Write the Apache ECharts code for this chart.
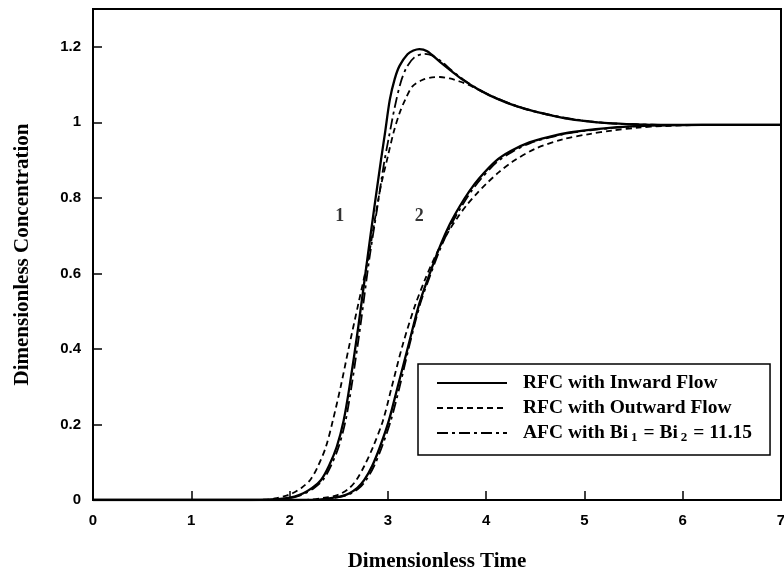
<!DOCTYPE html>
<html>
<head>
<meta charset="utf-8">
<script src="https://cdn.jsdelivr.net/npm/echarts@6/dist/echarts.min.js"></script>
<style>html,body{margin:0;padding:0;background:#fff;}#c{width:784px;height:576px;}</style>
</head>
<body>
<div id="c"></div>
<script>
// ---- Data ----
const xTicks = [0, 1, 2, 3, 4, 5, 6, 7];
const yTicks = [0, 0.2, 0.4, 0.6, 0.8, 1, 1.2];

const seriesNames = ['RFC with Inward Flow', 'RFC with Outward Flow', 'AFC with Bi1 = Bi2 = 11.15'];

// Curve 1 – RFC inward (solid)
const c1InX = [0, 1.6, 1.8, 1.95, 2.05, 2.14, 2.23, 2.32, 2.40, 2.48, 2.55, 2.61, 2.70, 2.79, 2.86, 2.93, 2.97, 3.02, 3.07, 3.12, 3.20, 3.26, 3.32, 3.40, 3.53, 3.65, 3.76, 3.90, 4.03, 4.27, 4.50, 4.78, 5.05, 5.28, 5.60, 6.0, 7.0];
const c1InY = [0, 0, 0.001, 0.004, 0.009, 0.018, 0.032, 0.053, 0.09, 0.141, 0.21, 0.30, 0.46, 0.636, 0.77, 0.90, 0.97, 1.06, 1.115, 1.15, 1.18, 1.19, 1.194, 1.188, 1.16, 1.135, 1.113, 1.09, 1.072, 1.046, 1.028, 1.012, 1.002, 0.997, 0.994, 0.993, 0.993];
// Curve 1 – RFC outward (dashed)
const c1OutX = [0, 1.6, 1.75, 1.85, 1.95, 2.03, 2.12, 2.21, 2.29, 2.37, 2.44, 2.52, 2.60, 2.70, 2.80, 2.92, 3.00, 3.06, 3.12, 3.18, 3.25, 3.35, 3.45, 3.53, 3.63, 3.73, 3.83, 4.03, 4.27, 4.50, 4.78, 5.05, 5.28, 5.60, 6.0, 7.0];
const c1OutY = [0, 0, 0.001, 0.004, 0.010, 0.018, 0.032, 0.053, 0.09, 0.141, 0.21, 0.30, 0.40, 0.52, 0.64, 0.82, 0.91, 0.975, 1.025, 1.062, 1.095, 1.112, 1.119, 1.12, 1.116, 1.108, 1.098, 1.072, 1.046, 1.028, 1.012, 1.002, 0.997, 0.994, 0.993, 0.993];
// Curve 1 – AFC (dash-dot)
const c1AfcX = [0, 1.6, 1.8, 1.97, 2.07, 2.16, 2.25, 2.34, 2.42, 2.50, 2.57, 2.63, 2.72, 2.81, 2.89, 2.96, 3.01, 3.07, 3.13, 3.19, 3.27, 3.37, 3.45, 3.55, 3.65, 3.76, 3.90, 4.03, 4.27, 4.50, 4.78, 5.05, 5.28, 5.60, 6.0, 7.0];
const c1AfcY = [0, 0, 0.001, 0.004, 0.009, 0.018, 0.032, 0.053, 0.09, 0.141, 0.21, 0.30, 0.46, 0.636, 0.77, 0.89, 0.96, 1.04, 1.105, 1.145, 1.172, 1.181, 1.177, 1.16, 1.137, 1.115, 1.091, 1.073, 1.047, 1.029, 1.013, 1.003, 0.997, 0.994, 0.993, 0.993];

// Curve 2 – RFC inward (solid)
const c2InX = [0, 2.1, 2.3, 2.45, 2.54, 2.61, 2.69, 2.76, 2.84, 2.92, 3.01, 3.10, 3.21, 3.32, 3.42, 3.52, 3.63, 3.73, 3.83, 3.93, 4.10, 4.25, 4.44, 4.65, 4.85, 5.05, 5.28, 5.55, 5.8, 6.2, 7.0];
const c2InY = [0, 0, 0.001, 0.006, 0.011, 0.018, 0.032, 0.053, 0.09, 0.141, 0.21, 0.30, 0.41, 0.52, 0.595, 0.665, 0.73, 0.777, 0.818, 0.852, 0.898, 0.924, 0.947, 0.962, 0.973, 0.98, 0.986, 0.99, 0.992, 0.993, 0.993];
// Curve 2 – RFC outward (dashed)
const c2OutX = [0, 2.0, 2.2, 2.36, 2.46, 2.53, 2.61, 2.68, 2.76, 2.85, 2.95, 3.04, 3.15, 3.27, 3.38, 3.50, 3.62, 3.72, 3.80, 3.90, 4.0, 4.13, 4.27, 4.50, 4.78, 5.05, 5.28, 5.55, 5.8, 6.2, 7.0];
const c2OutY = [0, 0, 0.001, 0.006, 0.011, 0.018, 0.032, 0.053, 0.09, 0.141, 0.21, 0.30, 0.41, 0.51, 0.585, 0.655, 0.712, 0.752, 0.78, 0.81, 0.837, 0.868, 0.896, 0.93, 0.955, 0.969, 0.978, 0.986, 0.99, 0.993, 0.993];
// Curve 2 – AFC (dash-dot)
const c2AfcX = [0, 2.1, 2.32, 2.47, 2.56, 2.63, 2.71, 2.78, 2.86, 2.94, 3.03, 3.12, 3.22, 3.33, 3.43, 3.53, 3.64, 3.74, 3.84, 3.94, 4.11, 4.26, 4.45, 4.66, 4.86, 5.06, 5.29, 5.56, 5.8, 6.2, 7.0];
const c2AfcY = [0, 0, 0.001, 0.006, 0.011, 0.018, 0.032, 0.053, 0.09, 0.141, 0.21, 0.30, 0.41, 0.52, 0.594, 0.663, 0.727, 0.773, 0.814, 0.848, 0.895, 0.921, 0.945, 0.961, 0.972, 0.979, 0.985, 0.99, 0.992, 0.993, 0.993];

// Curve number annotations
const curveLabels = ['1', '2'];
const curveLabelX = [2.51, 3.32];
const curveLabelY = [0.752, 0.752];

// ---- Build ----
const zip = (xs, ys) => xs.map((x, i) => [x, ys[i]]);
const styles = [
  { color: '#000', width: 2.3, type: 'solid' },
  { color: '#000', width: 1.8, type: [6, 4] },
  { color: '#000', width: 1.8, type: [11, 4, 3, 4] }
];
const curveSets = [
  [seriesNames[0], c1InX, c1InY, 0], [seriesNames[0], c2InX, c2InY, 0],
  [seriesNames[1], c1OutX, c1OutY, 1], [seriesNames[1], c2OutX, c2OutY, 1],
  [seriesNames[2], c1AfcX, c1AfcY, 2], [seriesNames[2], c2AfcX, c2AfcY, 2]
];
const lineSeries = curveSets.map(([name, xs, ys, s]) => ({
  name, type: 'line', data: zip(xs, ys), showSymbol: false, symbol: 'none',
  smooth: 0.3, lineStyle: styles[s], itemStyle: { color: '#000' },
  z: s === 0 ? 4 : 3
}));

const serif = '"Liberation Serif", "Times New Roman", serif';
const sans = '"Liberation Sans", Arial, sans-serif';

const chart = echarts.init(document.getElementById('c'), null, { renderer: 'canvas' });
chart.setOption({
  animation: false,
  backgroundColor: '#fff',
  grid: { left: 93, right: 3, top: 9, bottom: 76, outerBoundsMode: 'none', containLabel: false,
    show: true, borderColor: '#000', borderWidth: 2, backgroundColor: 'transparent' },
  xAxis: {
    type: 'value', min: xTicks[0], max: xTicks[xTicks.length - 1], interval: 1,
    axisLine: { lineStyle: { color: '#000', width: 2 } },
    axisTick: { inside: true, length: 9, lineStyle: { color: '#000', width: 1.5 } },
    splitLine: { show: false },
    axisLabel: { color: '#000', fontFamily: sans, fontWeight: 'bold', fontSize: 15, margin: 13 },
    name: 'Dimensionless Time', nameLocation: 'middle', nameGap: 51,
    nameTextStyle: { fontFamily: serif, fontWeight: 'bold', fontSize: 21, color: '#000' }
  },
  yAxis: {
    type: 'value', min: 0, max: 1.3, interval: 0.2,
    axisLine: { lineStyle: { color: '#000', width: 2 } },
    axisTick: { inside: true, length: 9, lineStyle: { color: '#000', width: 1.5 } },
    splitLine: { show: false },
    axisLabel: { color: '#000', fontFamily: sans, fontWeight: 'bold', fontSize: 15, margin: 12, showMaxLabel: false },
    name: 'Dimensionless Concentration', nameLocation: 'middle', nameGap: 60, nameRotate: 90,
    nameTextStyle: { fontFamily: serif, fontWeight: 'bold', fontSize: 21, color: '#000' }
  },
  legend: {
    orient: 'vertical', left: 418, top: 364,
    data: seriesNames,
    itemWidth: 70, itemHeight: 14, itemGap: 5,
    padding: [9, 18, 11, 18],
    borderColor: '#000', borderWidth: 1.5, backgroundColor: '#fff',
    selectedMode: false,
    itemStyle: { color: 'transparent', borderColor: 'transparent', borderWidth: 0 },
    formatter: function (name) {
      if (name === seriesNames[2]) {
        return '{p| }{t|AFC with Bi}{s|1}{t| = Bi}{s|2}{t| = 11.15}';
      }
      return '{p| }{t|' + name + '}';
    },
    textStyle: {
      color: '#000',
      rich: {
        p: { width: 11 },
        t: { fontFamily: serif, fontWeight: 'bold', fontSize: 19.5, color: '#000', lineHeight: 22 },
        s: { fontFamily: serif, fontWeight: 'bold', fontSize: 13, color: '#000', lineHeight: 22, verticalAlign: 'bottom', padding: [0, 1, 0, 3] }
      }
    }
  },
  series: lineSeries.concat([{
    name: 'curve labels', type: 'scatter', symbolSize: 0,
    data: curveLabelX.map((x, i) => ({ value: [x, curveLabelY[i]], name: curveLabels[i] })),
    label: { show: true, position: 'inside', formatter: p => p.name, fontFamily: serif, fontWeight: 'bold', fontSize: 18, color: '#000' },
    silent: true, z: 5
  }])
});
</script>
</body>
</html>
